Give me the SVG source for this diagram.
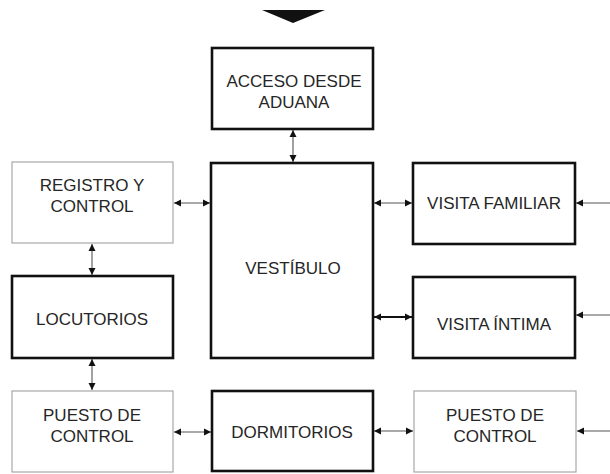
<svg xmlns="http://www.w3.org/2000/svg" width="610" height="474" viewBox="0 0 610 474">
<style>
.thick{fill:#fff;stroke:#111;stroke-width:2.6}
.light{fill:#fff;stroke:#a8a8a8;stroke-width:1.2}
.t{font-family:"Liberation Sans",Arial,sans-serif;font-size:17px;fill:#262626;text-anchor:middle}
.c{stroke:#555;stroke-width:1.1;fill:none}
.cb{stroke:#111;stroke-width:1.8;fill:none}
</style>
<defs>
<marker id="ah" markerUnits="userSpaceOnUse" markerWidth="8" markerHeight="8" refX="7" refY="4" orient="auto-start-reverse">
<path d="M0,0.5 L7,4 L0,7.5 Z" fill="#111"/>
</marker>
</defs>
<rect width="610" height="474" fill="#fff"/>
<g id="entry-triangle"><path d="M262,10 L325,10 L293,23 Z" fill="#111"/></g>
<g id="acceso"><rect class="thick" x="212" y="48" width="161" height="81"/><text class="t" x="294" y="87">ACCESO DESDE</text><text class="t" x="294" y="108">ADUANA</text></g>
<g id="vestibulo"><rect class="thick" x="211" y="163" width="162" height="195"/><text class="t" x="293" y="274">VESTÍBULO</text></g>
<g id="registro"><rect class="light" x="12" y="162" width="161" height="81"/><text class="t" x="92" y="191">REGISTRO Y</text><text class="t" x="92" y="212">CONTROL</text></g>
<g id="locutorios"><rect class="thick" x="12" y="276" width="161" height="82"/><text class="t" x="92" y="325">LOCUTORIOS</text></g>
<g id="puesto-izq"><rect class="light" x="12" y="391" width="161" height="81"/><text class="t" x="92" y="421">PUESTO DE</text><text class="t" x="92" y="442">CONTROL</text></g>
<g id="dormitorios"><rect class="thick" x="212" y="391" width="161" height="80"/><text class="t" x="292" y="438">DORMITORIOS</text></g>
<g id="puesto-der"><rect class="light" x="414" y="391" width="162" height="81"/><text class="t" x="495" y="421">PUESTO DE</text><text class="t" x="495" y="442">CONTROL</text></g>
<g id="visita-familiar"><rect class="thick" x="413" y="163" width="162" height="81"/><text class="t" x="494" y="209">VISITA FAMILIAR</text></g>
<g id="visita-intima"><rect class="thick" x="413" y="277" width="162" height="81"/><text class="t" x="494" y="330">VISITA ÍNTIMA</text></g>
<g id="connectors">
<line class="c" x1="293" y1="130" x2="293" y2="162" marker-start="url(#ah)" marker-end="url(#ah)"/>
<line class="c" x1="174" y1="203" x2="210" y2="203" marker-start="url(#ah)" marker-end="url(#ah)"/>
<line class="c" x1="92" y1="244" x2="92" y2="275" marker-start="url(#ah)" marker-end="url(#ah)"/>
<line class="c" x1="92" y1="359" x2="92" y2="390" marker-start="url(#ah)" marker-end="url(#ah)"/>
<line class="c" x1="174" y1="432" x2="211" y2="432" marker-start="url(#ah)" marker-end="url(#ah)"/>
<line class="c" x1="374" y1="431" x2="413" y2="431" marker-start="url(#ah)" marker-end="url(#ah)"/>
<line class="c" x1="374" y1="203" x2="412" y2="203" marker-start="url(#ah)" marker-end="url(#ah)"/>
<line class="cb" x1="374" y1="317" x2="412" y2="317" marker-start="url(#ah)" marker-end="url(#ah)"/>
<line class="c" x1="610" y1="203" x2="576" y2="203" marker-end="url(#ah)"/>
<line class="c" x1="610" y1="315" x2="576" y2="315" marker-end="url(#ah)"/>
<line class="c" x1="610" y1="431" x2="577" y2="431" marker-end="url(#ah)"/>
</g>
</svg>
